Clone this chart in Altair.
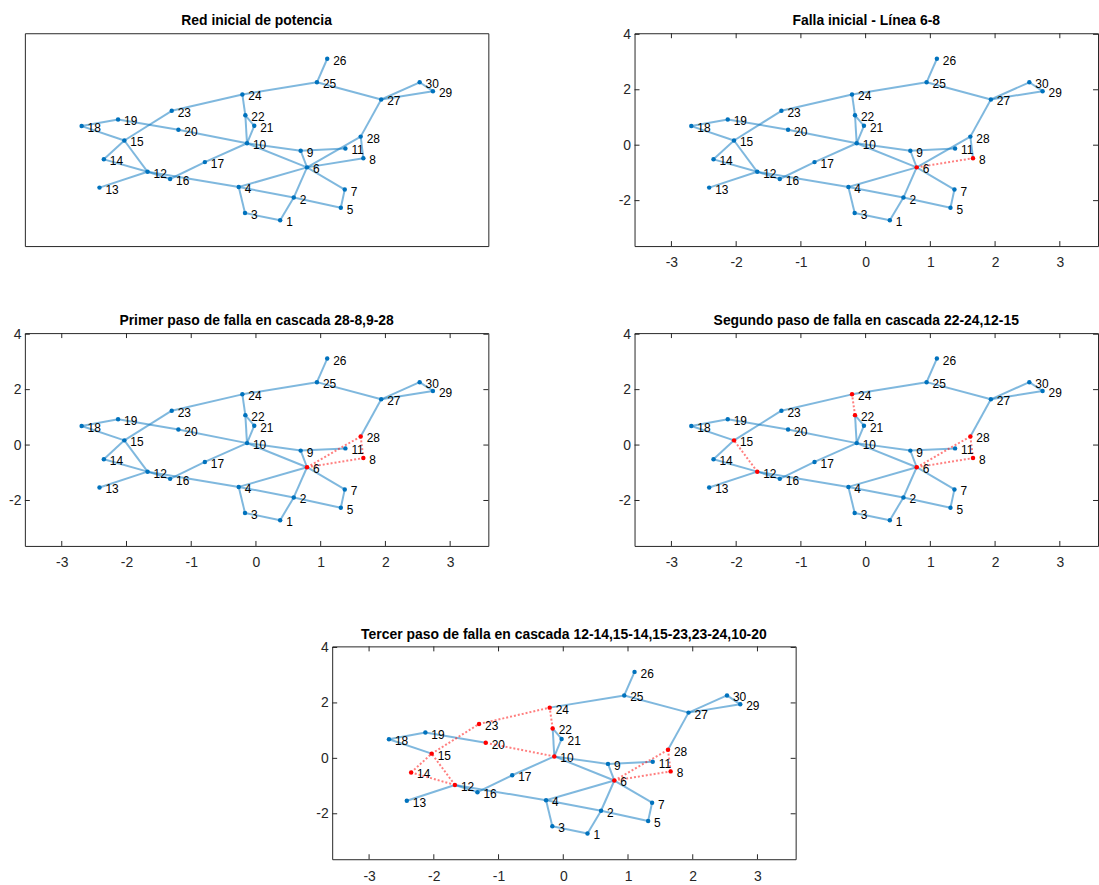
import altair as alt
import pandas as pd

# ---- bus positions (graph layout coordinates) ----
bus_ids = list(range(1, 31))
bus_x = [0.374, 0.584, -0.169, -0.266, 1.311, 0.789, 1.372, 1.659, 0.691, -0.138,
         1.382, -1.674, -2.417, -2.350, -2.033, -1.326, -0.789, -2.693, -2.130, -1.198,
         -0.026, -0.164, -1.301, -0.210, 0.942, 1.101, 1.935, 1.618, 2.734, 2.529]
bus_y = [-2.71, -1.89, -2.45, -1.51, -2.26, -0.80, -1.60, -0.47, -0.20, 0.07,
         -0.12, -0.96, -1.53, -0.51, 0.17, -1.22, -0.61, 0.69, 0.93, 0.56,
         0.70, 1.08, 1.24, 1.83, 2.27, 3.12, 1.65, 0.31, 1.95, 2.27]

# ---- branches of the IEEE 30-bus system ----
branch_from = [1, 1, 2, 3, 2, 2, 4, 5, 6, 6, 6, 6, 9, 9, 4, 12, 12, 12, 12, 14, 16,
               15, 18, 19, 10, 10, 10, 10, 21, 15, 22, 23, 24, 25, 25, 27, 27, 27, 29, 8, 6]
branch_to = [2, 3, 4, 4, 5, 6, 6, 7, 7, 8, 9, 10, 11, 10, 12, 13, 14, 15, 16, 15, 17,
             18, 19, 20, 20, 17, 21, 22, 22, 23, 24, 24, 25, 26, 27, 28, 29, 30, 30, 28, 28]

# ---- lines out of service at each stage (cumulative) ----
step1 = [(6, 8)]
step2 = step1 + [(8, 28), (6, 28)]
step3 = step2 + [(22, 24), (12, 15)]
step4 = step3 + [(12, 14), (14, 15), (15, 23), (23, 24), (10, 20)]

titles = [
    "Red inicial de potencia",
    "Falla inicial - Línea 6-8",
    "Primer paso de falla en cascada 28-8,9-28",
    "Segundo paso de falla en cascada 22-24,12-15",
    "Tercer paso de falla en cascada 12-14,15-14,15-23,23-24,10-20",
]

x_ticks = [-3, -2, -1, 0, 1, 2, 3]
y_ticks = [-2, 0, 2, 4]

FONT = "Liberation Sans"
AX = "#262626"
BLUE = "#0072BD"
RED = "#FF0000"
W, H = 466, 214

xs = alt.Scale(domain=[-3.57, 3.59], nice=False, zero=False)
ys = alt.Scale(domain=[-3.64, 4.04], nice=False, zero=False)

pos = {b: (x, y) for b, x, y in zip(bus_ids, bus_x, bus_y)}


def make_axes(show):
    common = dict(title=None, grid=False, domain=False, ticks=False, tickSize=0,
                  labelFont=FONT, labelFontSize=14, labelFlush=False,
                  labelOverlap=False, labelExpr="'' + datum.value",
                  labelColor=AX if show else "white")
    xa = alt.Axis(values=x_ticks, labelPadding=10, **common) if show else None
    ya = alt.Axis(values=y_ticks, labelPadding=4, **common)
    return xa, ya


def panel(title, failed, show=True):
    out = {frozenset(e) for e in failed}
    red = {n for e in failed for n in e}
    edges = pd.DataFrame({
        "f": branch_from,
        "t": branch_to,
        "x": [pos[a][0] for a in branch_from],
        "y": [pos[a][1] for a in branch_from],
        "x2": [pos[b][0] for b in branch_to],
        "y2": [pos[b][1] for b in branch_to],
        "state": ["out" if frozenset((a, b)) in out else "ok"
                  for a, b in zip(branch_from, branch_to)],
    })
    nodes = pd.DataFrame({
        "bus": bus_ids, "x": bus_x, "y": bus_y,
        "state": ["out" if b in red else "ok" for b in bus_ids],
    })
    xa, ya = make_axes(show)

    def X(f):
        return alt.X(f, scale=xs, axis=xa)

    def Y(f):
        return alt.Y(f, scale=ys, axis=ya)

    layers = [
        alt.Chart(edges[edges.state == "ok"]).mark_rule(
            color=BLUE, strokeWidth=2, opacity=0.5
        ).encode(x=X("x:Q"), y=Y("y:Q"), x2="x2:Q", y2="y2:Q")
    ]
    if failed:
        layers.append(
            alt.Chart(edges[edges.state == "out"]).mark_rule(
                color=RED, strokeWidth=2, opacity=0.5, strokeDash=[2, 2]
            ).encode(x=X("x:Q"), y=Y("y:Q"), x2="x2:Q", y2="y2:Q")
        )
    layers.append(
        alt.Chart(nodes).mark_circle(size=20, opacity=1).encode(
            x=X("x:Q"), y=Y("y:Q"),
            color=alt.Color("state:N", scale=alt.Scale(domain=["ok", "out"], range=[BLUE, RED]),
                            legend=None),
        )
    )
    layers.append(
        alt.Chart(nodes).mark_text(
            align="left", baseline="middle", dx=6, dy=2, fontSize=12, font=FONT, color="#000000"
        ).encode(x=X("x:Q"), y=Y("y:Q"), text="bus:N")
    )
    if show:
        xt = pd.DataFrame({"v": x_ticks})
        yt = pd.DataFrame({"v": y_ticks})
        tick = dict(color=AX, strokeWidth=1)
        layers += [
            alt.Chart(xt).mark_rule(**tick).encode(x=X("v:Q"), y=alt.value(H), y2=alt.value(H - 5)),
            alt.Chart(xt).mark_rule(**tick).encode(x=X("v:Q"), y=alt.value(0), y2=alt.value(5)),
            alt.Chart(yt).mark_rule(**tick).encode(y=Y("v:Q"), x=alt.value(0), x2=alt.value(5)),
            alt.Chart(yt).mark_rule(**tick).encode(y=Y("v:Q"), x=alt.value(W - 5), x2=alt.value(W)),
        ]
    return alt.layer(*layers).properties(
        width=W, height=H,
        title=alt.TitleParams(title, font=FONT, fontSize=14, fontWeight="bold", color="#000000",
                              anchor="middle", frame="group", offset=-12, baseline="alphabetic"),
    )


p1 = panel(titles[0], [], show=False)
p2 = panel(titles[1], step1)
p3 = panel(titles[2], step2)
p4 = panel(titles[3], step3)
p5 = panel(titles[4], step4)

# blank column that shifts the last panel to the centre
spacer = alt.Chart(pd.DataFrame({"v": [0]})).mark_point(opacity=0).encode(
    y=alt.Y("v:Q", scale=ys, axis=make_axes(False)[1])
).properties(width=1, height=H, view=alt.ViewBackground(strokeOpacity=0))

row1 = alt.hconcat(p1, p2, spacing=147, bounds="flush")
row2 = alt.hconcat(p3, p4, spacing=147, bounds="flush")
row3 = alt.hconcat(spacer, p5, spacing=308, bounds="flush")

chart = alt.vconcat(
    alt.vconcat(row1, row2, spacing=42.5),
    row3, spacing=56.5,
).properties(
    padding={"left": 8, "top": 11, "right": 0, "bottom": 0}
).configure_view(stroke=AX, strokeWidth=1)

chart.save("out.html", embed_options={"renderer": "svg", "actions": False})
